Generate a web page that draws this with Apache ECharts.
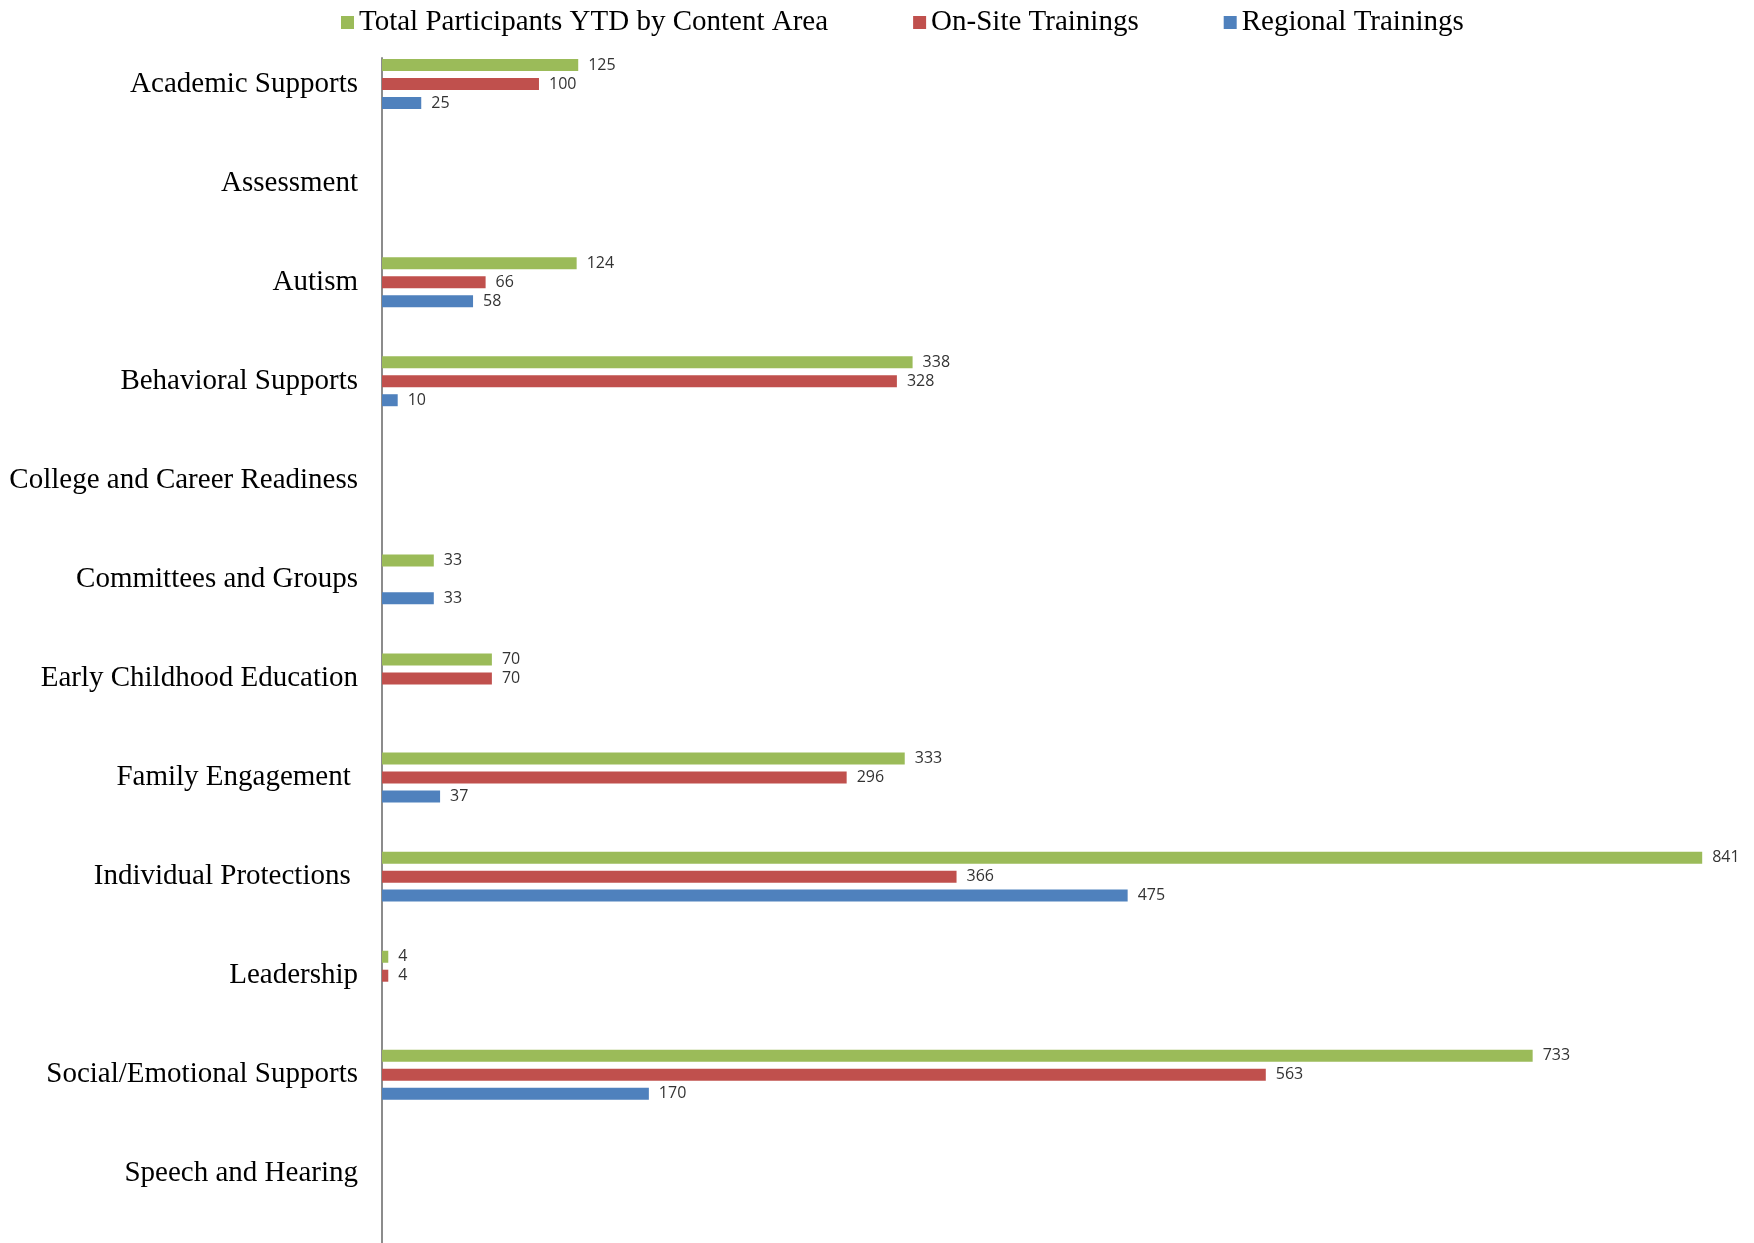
<!DOCTYPE html>
<html>
<head>
<meta charset="utf-8">
<script src="https://cdn.jsdelivr.net/npm/echarts@6/dist/echarts.min.js"></script>
<style>
html,body{margin:0;padding:0;background:#fff;}
#chart{width:1754px;height:1243px;}
</style>
</head>
<body>
<div id="chart"></div>
<script>
const categories = [
  "Academic Supports", "Assessment", "Autism", "Behavioral Supports",
  "College and Career Readiness", "Committees and Groups", "Early Childhood Education",
  "Family Engagement ", "Individual Protections ", "Leadership", "Social/Emotional Supports",
  "Speech and Hearing"
];
const seriesNames = ["Total Participants YTD by Content Area", "On-Site Trainings", "Regional Trainings"];
const totalValues    = [125, null, 124, 338, null, 33, 70, 333, 841, 4, 733, null];
const onSiteValues   = [100, null, 66, 328, null, null, 70, 296, 366, 4, 563, null];
const regionalValues = [25, null, 58, 10, null, 33, null, 37, 475, null, 170, null];
const colors = ["#9BBB59", "#C0504D", "#4F81BD"];

const chart = echarts.init(document.getElementById('chart'), null, {renderer: 'canvas'});
const labelStyle = {
  show: true, position: 'right', distance: 10,
  fontFamily: '"Open Sans", "Noto Sans", sans-serif', fontSize: 16, color: '#333333'
};
function mk(name, data, color) {
  return {
    name: name, type: 'bar', data: data, barWidth: 12, barGap: '58%',
    xAxisIndex: 0, yAxisIndex: 0,
    itemStyle: {color: color}, label: labelStyle, animation: false
  };
}
chart.setOption({
  animation: false,
  color: colors,
  legend: {
    top: 8, left: 341, padding: 0, itemWidth: 13, itemHeight: 13, itemGap: 85,
    icon: 'rect',
    textStyle: {fontFamily: '"Liberation Serif", serif', fontSize: 29, color: '#000'},
    data: seriesNames
  },
  grid: [
    {left: 382, right: 0, top: 34.5, bottom: 19.6, containLabel: false},
    {left: 382, right: 0, top: 58, bottom: 0, containLabel: false}
  ],
  xAxis: [
    {type: 'value', gridIndex: 0, min: 0, max: 874, show: false},
    {type: 'value', gridIndex: 1, min: 0, max: 874, show: false}
  ],
  yAxis: [
    {
      type: 'category', gridIndex: 0, data: categories, inverse: true,
      axisLine: {show: false}, axisTick: {show: false}, splitLine: {show: false},
      axisLabel: {
        margin: 24, fontFamily: '"Liberation Serif", serif', fontSize: 29, color: '#000'
      }
    },
    {
      type: 'value', gridIndex: 1, min: 0, max: 1,
      axisLine: {show: true, onZero: false, lineStyle: {color: '#8c8c8c', width: 2}},
      axisTick: {show: false}, axisLabel: {show: false}, splitLine: {show: false}
    }
  ],
  series: [
    mk(seriesNames[0], totalValues, colors[0]),
    mk(seriesNames[1], onSiteValues, colors[1]),
    mk(seriesNames[2], regionalValues, colors[2])
  ]
});
</script>
</body>
</html>
